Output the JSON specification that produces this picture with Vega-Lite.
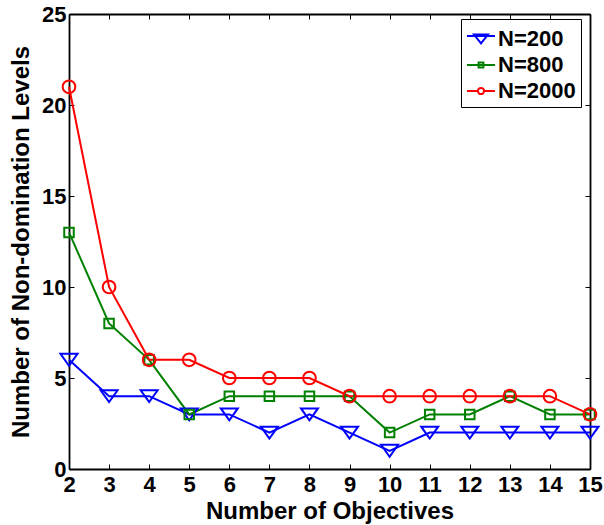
{
  "$schema": "https://vega.github.io/schema/vega-lite/v6.json",
  "width": 521,
  "height": 455,
  "autosize": "none",
  "padding": {"left": 69, "top": 14, "right": 14, "bottom": 56},
  "background": "white",
  "config": {
    "view": {"stroke": null},
    "font": "Liberation Sans",
    "axis": {
      "grid": false,
      "domainColor": "black",
      "domainWidth": 1.8,
      "tickColor": "black",
      "tickWidth": 1,
      "tickSize": -5,
      "labelFont": "Liberation Sans",
      "labelFontWeight": "bold",
      "labelFontSize": 22,
      "labelColor": "black",
      "titleFont": "Liberation Sans",
      "titleFontWeight": "bold",
      "titleFontSize": 24,
      "titleColor": "black"
    },
    "legend": {
      "labelFont": "Liberation Sans",
      "labelFontWeight": "bold",
      "labelFontSize": 22,
      "labelColor": "black"
    }
  },
  "data": {
    "values": [
      {"objectives": 2, "series": "N=200", "levels": 6},
      {"objectives": 3, "series": "N=200", "levels": 4},
      {"objectives": 4, "series": "N=200", "levels": 4},
      {"objectives": 5, "series": "N=200", "levels": 3},
      {"objectives": 6, "series": "N=200", "levels": 3},
      {"objectives": 7, "series": "N=200", "levels": 2},
      {"objectives": 8, "series": "N=200", "levels": 3},
      {"objectives": 9, "series": "N=200", "levels": 2},
      {"objectives": 10, "series": "N=200", "levels": 1},
      {"objectives": 11, "series": "N=200", "levels": 2},
      {"objectives": 12, "series": "N=200", "levels": 2},
      {"objectives": 13, "series": "N=200", "levels": 2},
      {"objectives": 14, "series": "N=200", "levels": 2},
      {"objectives": 15, "series": "N=200", "levels": 2},
      {"objectives": 2, "series": "N=800", "levels": 13},
      {"objectives": 3, "series": "N=800", "levels": 8},
      {"objectives": 4, "series": "N=800", "levels": 6},
      {"objectives": 5, "series": "N=800", "levels": 3},
      {"objectives": 6, "series": "N=800", "levels": 4},
      {"objectives": 7, "series": "N=800", "levels": 4},
      {"objectives": 8, "series": "N=800", "levels": 4},
      {"objectives": 9, "series": "N=800", "levels": 4},
      {"objectives": 10, "series": "N=800", "levels": 2},
      {"objectives": 11, "series": "N=800", "levels": 3},
      {"objectives": 12, "series": "N=800", "levels": 3},
      {"objectives": 13, "series": "N=800", "levels": 4},
      {"objectives": 14, "series": "N=800", "levels": 3},
      {"objectives": 15, "series": "N=800", "levels": 3},
      {"objectives": 2, "series": "N=2000", "levels": 21},
      {"objectives": 3, "series": "N=2000", "levels": 10},
      {"objectives": 4, "series": "N=2000", "levels": 6},
      {"objectives": 5, "series": "N=2000", "levels": 6},
      {"objectives": 6, "series": "N=2000", "levels": 5},
      {"objectives": 7, "series": "N=2000", "levels": 5},
      {"objectives": 8, "series": "N=2000", "levels": 5},
      {"objectives": 9, "series": "N=2000", "levels": 4},
      {"objectives": 10, "series": "N=2000", "levels": 4},
      {"objectives": 11, "series": "N=2000", "levels": 4},
      {"objectives": 12, "series": "N=2000", "levels": 4},
      {"objectives": 13, "series": "N=2000", "levels": 4},
      {"objectives": 14, "series": "N=2000", "levels": 4},
      {"objectives": 15, "series": "N=2000", "levels": 3}
    ]
  },
  "resolve": {"axis": {"x": "independent", "y": "independent"}},
  "layer": [
    {
      "mark": {"type": "line", "strokeWidth": 2},
      "encoding": {
        "x": {"field": "objectives", "type": "quantitative", "scale": {"domain": [2, 15], "nice": false, "zero": false},
              "axis": {"title": "Number of Objectives", "values": [2,3,4,5,6,7,8,9,10,11,12,13,14,15], "labelPadding": 10, "titlePadding": 4, "labelFlush": false}},
        "y": {"field": "levels", "type": "quantitative", "scale": {"domain": [0, 25], "nice": false},
              "axis": {"title": "Number of Non-domination Levels", "values": [0,5,10,15,20,25], "labelPadding": 8, "titlePadding": 8}},
        "color": {"field": "series", "type": "nominal",
                  "scale": {"domain": ["N=200", "N=800", "N=2000"], "range": ["#0000ff", "#008000", "#ff0000"]},
                  "legend": {
                    "title": null,
                    "orient": "none",
                    "legendX": 392,
                    "legendY": 5,
                    "fillColor": "white",
                    "strokeColor": "black",
                    "padding": 5,
                    "symbolSize": 784,
                    "symbolStrokeWidth": 2,
                    "symbolOffset": 0,
                    "labelOffset": 2,
                    "rowPadding": 0,
                    "encode": {
                      "symbols": {
                        "update": {
                          "shape": {"signal": "datum.value === 'N=200' ? 'M-1,-0.22H1M-0.5,-0.32L0.5,-0.32L0,0.32Z' : datum.value === 'N=800' ? 'M-1,0H1M-0.17,-0.17H0.17V0.17H-0.17Z' : 'M-1,0H-0.22A0.22,0.22 0 1,1 0.22,0H1M0.22,0A0.22,0.22 0 1,1 -0.22,0'"},
                          "fill": {"value": "transparent"},
                          "stroke": {"signal": "scale('color', datum.value)"},
                          "strokeWidth": {"value": 2}
                        }
                      }
                    }
                  }}
      }
    },
    {
      "transform": [{"filter": "datum.series === 'N=200'"}],
      "mark": {"type": "point", "filled": false, "strokeWidth": 2, "opacity": 1, "shape": "M-1,-0.7L1,-0.7L0,0.7Z", "size": 289},
      "encoding": {
        "x": {"field": "objectives", "type": "quantitative", "axis": null},
        "y": {"field": "levels", "type": "quantitative", "axis": null},
        "color": {"field": "series", "type": "nominal"}
      }
    },
    {
      "transform": [{"filter": "datum.series === 'N=800'"}],
      "mark": {"type": "point", "filled": false, "strokeWidth": 2, "opacity": 1, "shape": "square", "size": 90},
      "encoding": {
        "x": {"field": "objectives", "type": "quantitative", "axis": null},
        "y": {"field": "levels", "type": "quantitative", "axis": null},
        "color": {"field": "series", "type": "nominal"}
      }
    },
    {
      "transform": [{"filter": "datum.series === 'N=2000'"}],
      "mark": {"type": "point", "filled": false, "strokeWidth": 2, "opacity": 1, "shape": "circle", "size": 160},
      "encoding": {
        "x": {"field": "objectives", "type": "quantitative", "axis": null},
        "y": {"field": "levels", "type": "quantitative", "axis": null},
        "color": {"field": "series", "type": "nominal"}
      }
    },
    {
      "mark": {"type": "point", "opacity": 0},
      "encoding": {
        "x": {"field": "objectives", "type": "quantitative",
              "axis": {"orient": "top", "labels": false, "title": null, "values": [2,3,4,5,6,7,8,9,10,11,12,13,14,15]}},
        "y": {"field": "levels", "type": "quantitative",
              "axis": {"orient": "right", "labels": false, "title": null, "values": [0,5,10,15,20,25]}}
      }
    }
  ]
}
